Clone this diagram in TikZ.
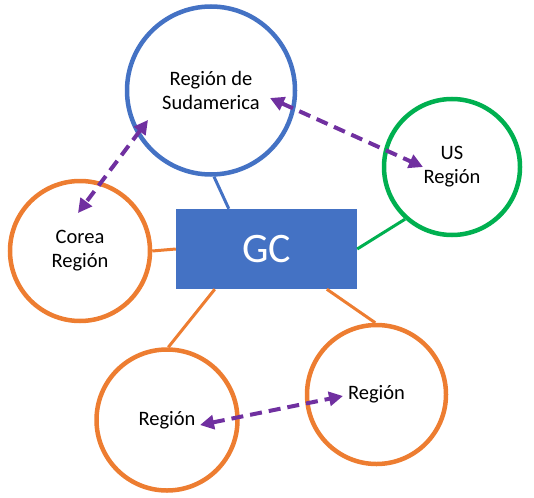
\documentclass[tikz,border=0pt]{standalone}
\usepackage{fontspec}
\setmainfont{Carlito}
\usetikzlibrary{arrows.meta}
\definecolor{oblue}{HTML}{4472C4}
\definecolor{oorange}{HTML}{ED7D31}
\definecolor{ogreen}{HTML}{00B050}
\definecolor{opurple}{HTML}{7030A0}
\begin{document}
\begin{tikzpicture}[x=1pt,y=-1pt,
  region/.style={circle, line width=4.5pt, align=center, inner sep=0pt,
    font=\fontsize{20.5}{24}\selectfont},
  link/.style={line width=3pt},
  peer/.style={draw=opurple, line width=4pt, dash pattern=on 12pt off 7pt,
    {Triangle[length=14pt,width=14pt]}-{Triangle[length=14pt,width=14pt]}}]
\useasboundingbox (0,0) rectangle (534,497);
% regions
\node[region, draw=oblue, minimum size=168pt] (sud) at (211,90.5) {Región de\\Sudamerica};
\node[region, draw=ogreen, minimum size=136pt] (us) at (452,167) {US\\Región};
\node[region, draw=oorange, minimum size=140pt] (corea) at (80,251) {Corea\\Región};
\node[region, draw=oorange, minimum size=141pt] (bl) at (167,420) {Región};
\node[region, draw=oorange, minimum size=139pt] (br) at (376.5,394.5) {Región};
% central box
\node[fill=oblue, minimum width=181pt, minimum height=80pt, inner sep=0pt,
  text=white, font=\fontsize{42}{42}\selectfont] (gc) at (266.5,249) {GC};
% links
\draw[link, draw=oblue] (sud.272.6) -- ([xshift=53pt]gc.north west);
\draw[link, draw=ogreen] (gc.east) -- (us.228.2);
\draw[link, draw=oorange] (corea.east) -- (gc.west);
\draw[link, draw=oorange] ([xshift=39pt]gc.south west) -- (bl.89);
\draw[link, draw=oorange] ([xshift=151pt]gc.south west) -- (br.91);
% peer arrows
\coordinate (p1) at (270,98);
\coordinate (p2) at (423,167);
\coordinate (p3) at (148,120);
\coordinate (p4) at (78,213);
\coordinate (p5) at (200,425);
\coordinate (p6) at (343,396);
\draw[peer] (p1) -- (p2);
\draw[peer] (p3) -- (p4);
\draw[peer] (p5) -- (p6);
\end{tikzpicture}
\end{document}
